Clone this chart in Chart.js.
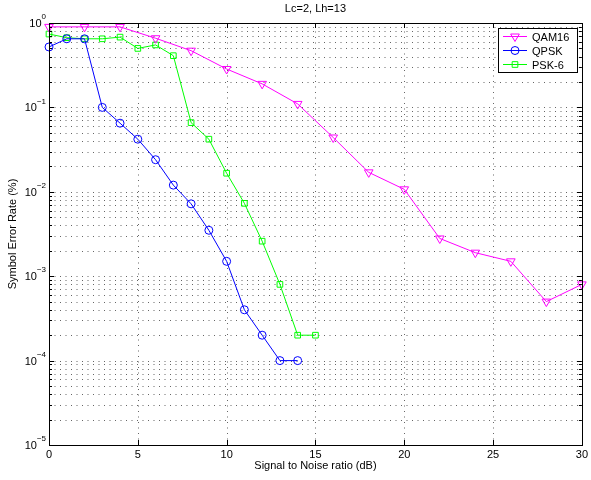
<!DOCTYPE html>
<html>
<head>
<meta charset="utf-8">
<script src="https://cdn.jsdelivr.net/npm/chart.js@4.4.0/dist/chart.umd.min.js"></script>
<style>
  html, body { margin: 0; padding: 0; background: #fff; }
  #wrap { width: 591px; height: 480px; }
</style>
</head>
<body>
<div id="wrap"><canvas id="myChart" width="591" height="480"></canvas></div>
<script>
const titleText = 'Lc=2, Lh=13';
const xLabel = 'Signal to Noise ratio (dB)';
const yLabel = 'Symbol Error Rate (%)';

const xTicks = [0, 5, 10, 15, 20, 25, 30];
const yDecades = [-5, -4, -3, -2, -1, 0];

const snrQam16 = [0, 2, 4, 6, 8, 10, 12, 14, 16, 18, 20, 22, 24, 26, 28, 30];
const serQam16 = [0.9, 0.9, 0.9, 0.66, 0.47, 0.285, 0.19, 0.11, 0.044, 0.017, 0.0107, 0.0028, 0.0019, 0.0015, 0.0005, 0.0008];

const snrQpsk = [0, 1, 2, 3, 4, 5, 6, 7, 8, 9, 10, 11, 12, 13, 14];
const serQpsk = [0.52, 0.65, 0.65, 0.1, 0.065, 0.042, 0.024, 0.012, 0.0072, 0.0035, 0.0015, 0.0004, 0.0002, 0.0001, 0.0001];

const snrPsk6 = [0, 1, 2, 3, 4, 5, 6, 7, 8, 9, 10, 11, 12, 13, 14, 15];
const serPsk6 = [0.74, 0.67, 0.65, 0.65, 0.68, 0.5, 0.55, 0.41, 0.066, 0.042, 0.0166, 0.0073, 0.0026, 0.0008, 0.0002, 0.0002];

const seriesNames = ['QAM16', 'QPSK', 'PSK-6'];
const seriesColors = ['#ff00ff', '#0000ff', '#00ff00'];

const FONT = '"Liberation Sans", Arial, sans-serif';

function toPoints(xs, ys) {
    return xs.map((x, i) => ({ x: x, y: ys[i] }));
}

function markerStyle(i) {
    if (i === 0) return { pointStyle: 'triangle', rotation: 180, radius: 5 };
    if (i === 1) return { pointStyle: 'circle', rotation: 0, radius: 4 };
    return { pointStyle: 'rect', rotation: 0, radius: 4 };
}

const seriesX = [snrQam16, snrQpsk, snrPsk6];
const seriesY = [serQam16, serQpsk, serPsk6];

const datasets = seriesNames.map((name, i) => {
    const m = markerStyle(i);
    return {
        label: name,
        data: toPoints(seriesX[i], seriesY[i]),
        borderColor: seriesColors[i],
        backgroundColor: 'transparent',
        borderWidth: 1,
        pointStyle: m.pointStyle,
        rotation: m.rotation,
        pointRadius: m.radius,
        pointHoverRadius: m.radius,
        pointBorderColor: seriesColors[i],
        pointBackgroundColor: 'transparent',
        pointBorderWidth: 1,
        tension: 0,
        clip: false
    };
});

function isDecade(v) {
    const l = Math.log10(v);
    return Math.abs(l - Math.round(l)) < 1e-9;
}

// dotted grid under the data
const dottedGrid = {
    id: 'dottedGrid',
    beforeDatasetsDraw(chart) {
        const ctx = chart.ctx;
        const a = chart.chartArea;
        const xs = chart.scales.x;
        const ys = chart.scales.y;
        ctx.save();
        ctx.strokeStyle = 'rgba(0,0,0,0.6)';
        ctx.lineWidth = 1;
        ctx.setLineDash([1, 4.5]);
        ctx.beginPath();
        xTicks.forEach(v => {
            const px = Math.round(xs.getPixelForValue(v)) + 0.5;
            ctx.moveTo(px, a.bottom); ctx.lineTo(px, a.top);
        });
        ys.ticks.forEach(t => {
            const py = Math.round(ys.getPixelForValue(t.value)) + 0.5;
            ctx.moveTo(a.left, py); ctx.lineTo(a.right, py);
        });
        ctx.stroke();
        ctx.restore();
    }
};

// box, inner ticks, decade labels, title and legend
const decorations = {
    id: 'decorations',
    afterDraw(chart) {
        const ctx = chart.ctx;
        const a = chart.chartArea;
        const xs = chart.scales.x;
        const ys = chart.scales.y;
        ctx.save();
        ctx.strokeStyle = '#000';
        ctx.lineWidth = 1;

        // inner tick marks
        ctx.beginPath();
        xTicks.forEach(v => {
            const px = Math.round(xs.getPixelForValue(v)) + 0.5;
            ctx.moveTo(px, a.bottom); ctx.lineTo(px, a.bottom - 5);
            ctx.moveTo(px, a.top); ctx.lineTo(px, a.top + 5);
        });
        ys.ticks.forEach(t => {
            const py = Math.round(ys.getPixelForValue(t.value)) + 0.5;
            const len = isDecade(t.value) ? 5 : 3;
            ctx.moveTo(a.left, py); ctx.lineTo(a.left + len, py);
            ctx.moveTo(a.right, py); ctx.lineTo(a.right - len, py);
        });
        ctx.stroke();

        // axes box
        ctx.strokeRect(Math.round(a.left) + 0.5, Math.round(a.top) + 0.5,
            Math.round(a.right - a.left), Math.round(a.bottom - a.top));

        // y decade labels 10^k
        ctx.fillStyle = '#000';
        ctx.textBaseline = 'middle';
        yDecades.forEach(k => {
            const py = ys.getPixelForValue(Math.pow(10, k));
            const sup = k === 0 ? '0' : '\u2212' + Math.abs(k);
            ctx.font = '8px ' + FONT;
            const supW = ctx.measureText(sup).width;
            const supX = a.left - 3 - supW;
            ctx.textAlign = 'left';
            ctx.fillText(sup, supX, py - 6);
            ctx.font = '11px ' + FONT;
            ctx.textAlign = 'right';
            ctx.fillText('10', supX, py + 1);
        });

        // title
        ctx.font = '11px ' + FONT;
        ctx.textAlign = 'center';
        ctx.fillText(titleText, (a.left + a.right) / 2, 9);

        // legend
        const lx = 498, ly = 28, lw = 79, lh = 44;
        ctx.fillStyle = '#fff';
        ctx.fillRect(lx, ly, lw, lh);
        ctx.strokeRect(lx + 0.5, ly + 0.5, lw, lh);
        chart.data.datasets.forEach((ds, i) => {
            const cy = ly + 8.5 + i * 14;
            ctx.strokeStyle = ds.borderColor;
            ctx.beginPath();
            ctx.moveTo(503, cy); ctx.lineTo(527, cy);
            ctx.stroke();
            ctx.fillStyle = 'rgba(0,0,0,0)';
            Chart.helpers.drawPoint(ctx, {
                pointStyle: ds.pointStyle,
                rotation: ds.rotation,
                radius: ds.pointRadius,
                borderWidth: 1
            }, 515, cy);
            ctx.fillStyle = '#000';
            ctx.textAlign = 'left';
            ctx.fillText(ds.label, 532, cy + 1);
        });
        ctx.restore();
    }
};

new Chart(document.getElementById('myChart').getContext('2d'), {
    type: 'line',
    data: { datasets: datasets },
    plugins: [dottedGrid, decorations],
    options: {
        responsive: false,
        animation: false,
        layout: { padding: { top: 23, right: 6, left: 0, bottom: 0 } },
        plugins: {
            legend: { display: false },
            title: { display: false },
            tooltip: { enabled: false }
        },
        scales: {
            x: {
                type: 'linear',
                min: 0,
                max: 30,
                afterBuildTicks: scale => { scale.ticks = xTicks.map(v => ({ value: v })); },
                afterFit: scale => { scale.height = 35; },
                ticks: { color: '#000', font: { family: FONT, size: 11 }, padding: 3, maxRotation: 0 },
                grid: { display: false, drawTicks: false, tickLength: 0 },
                border: { display: false },
                title: {
                    display: true, text: xLabel, color: '#000',
                    font: { family: FONT, size: 11 }, padding: { top: 0, bottom: 7 }
                }
            },
            y: {
                type: 'logarithmic',
                min: 1e-5,
                max: 1,
                afterBuildTicks: scale => {
                    const t = [];
                    for (let k = -5; k < 0; k++) {
                        for (let m = 1; m <= 9; m++) t.push({ value: m * Math.pow(10, k) });
                    }
                    t.push({ value: 1 });
                    scale.ticks = t;
                },
                afterFit: scale => { scale.width = 49; },
                ticks: { display: false },
                grid: { display: false, drawTicks: false, tickLength: 0 },
                border: { display: false },
                title: {
                    display: true, text: yLabel, color: '#000',
                    font: { family: FONT, size: 11 }, padding: { top: 6, bottom: 0 }
                }
            }
        }
    }
});
</script>
</body>
</html>
